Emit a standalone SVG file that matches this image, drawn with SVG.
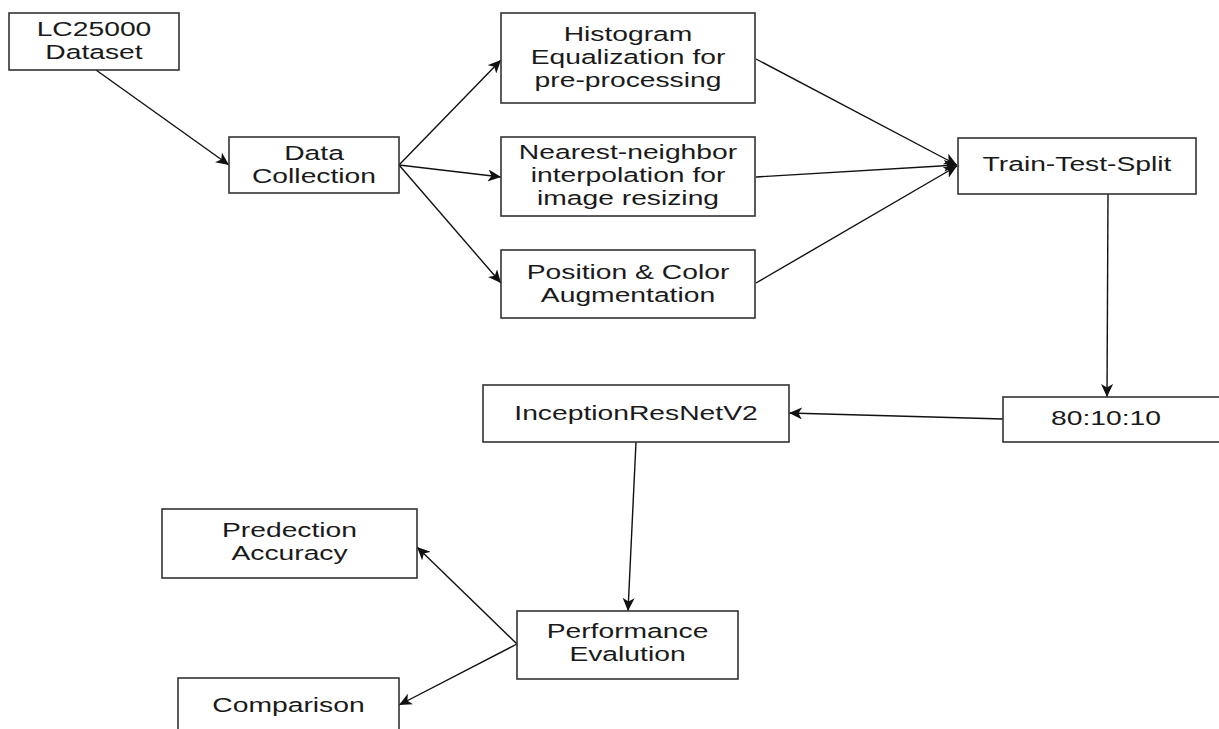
<svg xmlns="http://www.w3.org/2000/svg" width="1219" height="729" viewBox="0 0 1219 729">
  <style>
    .box { fill: #ffffff; stroke: #333333; stroke-width: 1.6; }
    .lbl { font-family: "Liberation Sans", Arial, sans-serif; font-size: 19.5px; fill: #1a1a1a; text-anchor: middle; }
    .edge { stroke: #111111; stroke-width: 1.4; fill: none; marker-end: url(#arr); }
  </style>
  <defs>
    <marker id="arr" markerUnits="userSpaceOnUse" markerWidth="14" markerHeight="12" refX="13" refY="6" orient="auto">
      <path d="M0,0 L13,6 L0,12 L3.5,6 Z" fill="#111111"/>
    </marker>
  </defs>
  <rect width="1219" height="729" fill="#ffffff"/>

  <g id="connectors">
    <line class="edge" x1="96" y1="70" x2="229" y2="165"/>
    <line class="edge" x1="399" y1="165" x2="501" y2="60"/>
    <line class="edge" x1="399" y1="165" x2="501" y2="177"/>
    <line class="edge" x1="399" y1="165" x2="501" y2="283"/>
    <line class="edge" x1="756" y1="59" x2="957" y2="165"/>
    <line class="edge" x1="756" y1="177" x2="957" y2="165"/>
    <line class="edge" x1="756" y1="283" x2="957" y2="166"/>
    <line class="edge" x1="1108" y1="194" x2="1107" y2="397"/>
    <line class="edge" x1="1003" y1="419" x2="789" y2="413"/>
    <line class="edge" x1="636" y1="442" x2="628" y2="611"/>
    <line class="edge" x1="517" y1="644" x2="417" y2="547"/>
    <line class="edge" x1="517" y1="644" x2="399" y2="705"/>
  </g>

  <g id="lc25000">
    <rect class="box" x="9" y="13" width="170" height="57"/>
    <text class="lbl" transform="translate(94,36) scale(1.45,1)">LC25000</text>
    <text class="lbl" transform="translate(94,59) scale(1.45,1)">Dataset</text>
  </g>
  <g id="data-collection">
    <rect class="box" x="229" y="137" width="170" height="56"/>
    <text class="lbl" transform="translate(314,160) scale(1.45,1)">Data</text>
    <text class="lbl" transform="translate(314,183) scale(1.45,1)">Collection</text>
  </g>
  <g id="histogram">
    <rect class="box" x="501" y="13" width="254" height="90"/>
    <text class="lbl" transform="translate(628,41) scale(1.45,1)">Histogram</text>
    <text class="lbl" transform="translate(628,64) scale(1.45,1)">Equalization for</text>
    <text class="lbl" transform="translate(628,87) scale(1.45,1)">pre-processing</text>
  </g>
  <g id="nearest">
    <rect class="box" x="501" y="137" width="254" height="79"/>
    <text class="lbl" transform="translate(628,159) scale(1.45,1)">Nearest-neighbor</text>
    <text class="lbl" transform="translate(628,182) scale(1.45,1)">interpolation for</text>
    <text class="lbl" transform="translate(628,205) scale(1.45,1)">image resizing</text>
  </g>
  <g id="position">
    <rect class="box" x="501" y="250" width="254" height="68"/>
    <text class="lbl" transform="translate(628,278.5) scale(1.45,1)">Position &amp; Color</text>
    <text class="lbl" transform="translate(628,301.5) scale(1.45,1)">Augmentation</text>
  </g>
  <g id="train-test-split">
    <rect class="box" x="958" y="138" width="238" height="56"/>
    <text class="lbl" transform="translate(1077,171) scale(1.45,1)">Train-Test-Split</text>
  </g>
  <g id="ratio">
    <rect class="box" x="1003" y="397" width="222" height="45"/>
    <text class="lbl" transform="translate(1106,425) scale(1.45,1)">80:10:10</text>
  </g>
  <g id="inception">
    <rect class="box" x="483" y="385" width="306" height="57"/>
    <text class="lbl" transform="translate(636,419.5) scale(1.45,1)">InceptionResNetV2</text>
  </g>
  <g id="performance">
    <rect class="box" x="517" y="611" width="221" height="68"/>
    <text class="lbl" transform="translate(627.5,638) scale(1.45,1)">Performance</text>
    <text class="lbl" transform="translate(627.5,661) scale(1.45,1)">Evalution</text>
  </g>
  <g id="prediction">
    <rect class="box" x="162" y="509" width="255" height="69"/>
    <text class="lbl" transform="translate(289.5,537) scale(1.45,1)">Predection</text>
    <text class="lbl" transform="translate(289.5,560) scale(1.45,1)">Accuracy</text>
  </g>
  <g id="comparison">
    <rect class="box" x="178" y="678" width="221" height="62"/>
    <text class="lbl" transform="translate(288.5,712) scale(1.45,1)">Comparison</text>
  </g>
</svg>
